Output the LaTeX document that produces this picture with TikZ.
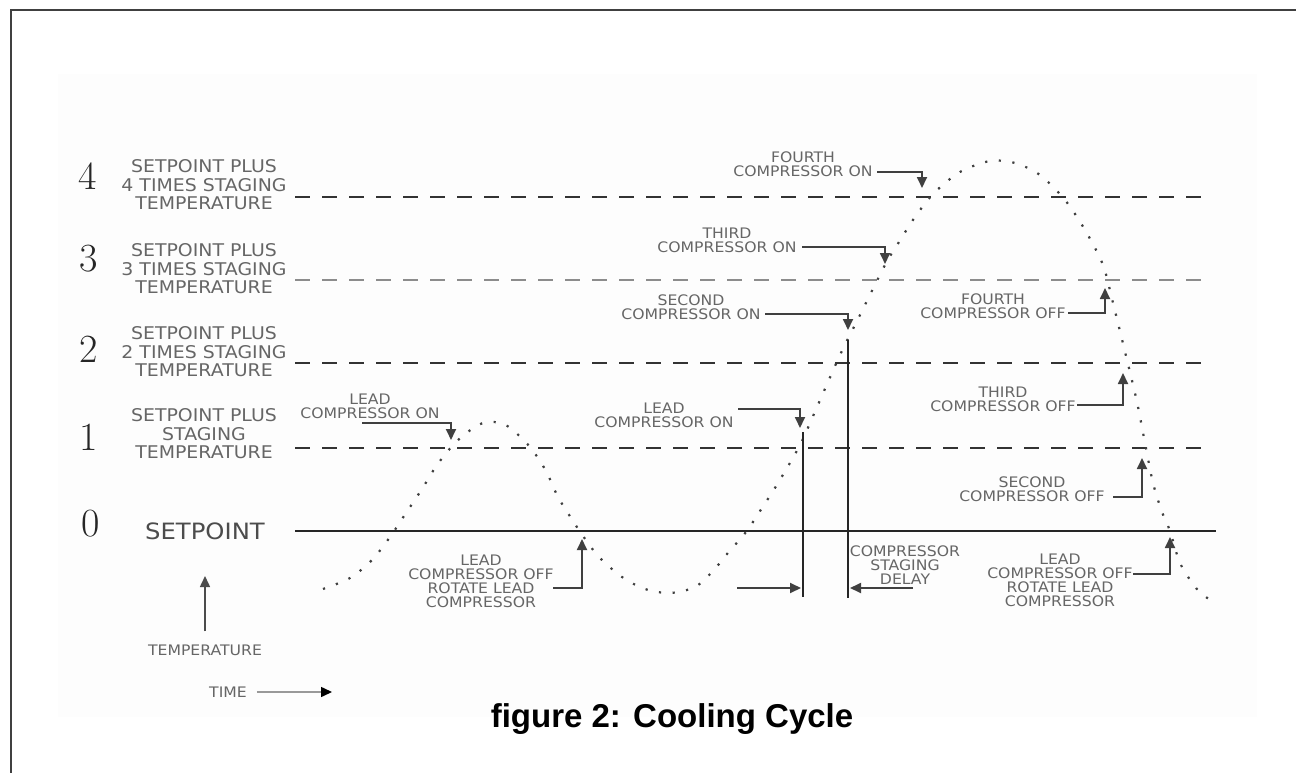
\documentclass[tikz,border=0pt]{standalone}
\usepackage{fontspec}
\usepackage{tikz}
\usetikzlibrary{arrows.meta}
\newfontfamily\labelfont[FakeStretch=1.08]{DejaVu Sans}
\newfontfamily\titlefont{Liberation Sans}

\begin{document}
\begin{tikzpicture}[x=1pt,y=-1pt,
  level/.style={line width=2.2pt,dash pattern=on 15pt off 12pt,black!80},
  callout/.style={line width=1.8pt,black!75,-{Triangle[length=11pt,width=10pt]}},
  small/.style={font=\labelfont\fontsize{14.5}{14}\selectfont,align=center,text=black!60,inner sep=0pt},
  levtext/.style={font=\labelfont\fontsize{17.5}{18.5}\selectfont,align=center,text=black!60,inner sep=0pt},
  digit/.style={font=\fontsize{40}{40}\selectfont,inner sep=0pt,text=black!85},
  wall/.style={line width=2.6pt,black!85},
  curve/.style={line width=2.2pt,dash pattern=on 2.2pt off 11.5pt,black!75}]

\useasboundingbox (0,0) rectangle (1296,773);
\fill[black!0.8] (58,74) rectangle (1257,717);

% frame
\draw[line width=2pt,black!75] (11,773) -- (11,10) -- (1296,10);

% levels
\coordinate (l4a) at (295,197);
\coordinate (l4b) at (1212,197);
\coordinate (l3a) at (295,280);
\coordinate (l3b) at (1212,280);
\coordinate (l2a) at (295,363);
\coordinate (l2b) at (1212,363);
\coordinate (l1a) at (295,448);
\coordinate (l1b) at (1212,448);
\coordinate (l0a) at (295,531);
\coordinate (l0b) at (1216,531);
\draw[level] (l4a) -- (l4b);
\draw[level,black!45] (l3a) -- (l3b);
\draw[level] (l2a) -- (l2b);
\draw[level] (l1a) -- (l1b);
\draw[line width=2.6pt,black!85] (l0a) -- (l0b);

\node[digit] (n4) at (88,176) {4};
\node[digit] (n3) at (89,259) {3};
\node[digit] (n2) at (89,349) {2};
\node[digit] (n1) at (89,437) {1};
\node[digit] (n0) at (91,524) {0};

\node[levtext] (s4) at (204,185) {SETPOINT PLUS\\4 TIMES STAGING\\TEMPERATURE};
\node[levtext] (s3) at (204,269) {SETPOINT PLUS\\3 TIMES STAGING\\TEMPERATURE};
\node[levtext] (s2) at (204,352) {SETPOINT PLUS\\2 TIMES STAGING\\TEMPERATURE};
\node[levtext] (s1) at (204,434) {SETPOINT PLUS\\STAGING\\TEMPERATURE};
\node[levtext,text=black!70,font=\labelfont\fontsize{22.5}{26}\selectfont] (s0) at (205,531) {SETPOINT};

% axes
\node[small] (temp) at (205,650) {TEMPERATURE};
\coordinate (tempup) at (205,576);
\draw[line width=1.5pt,black!70,-{Triangle[length=11pt,width=10pt]},shorten <=13pt] (temp.north) -- (tempup);
\node[small] (time) at (228,692) {TIME};
\coordinate (timeend) at (332,692);
\draw[line width=1.5pt,black!40,-{Triangle[length=11pt,width=10pt,black]},shorten <=10pt] (time.east) -- (timeend);

% temperature curve
\draw[curve] plot[smooth] coordinates {(323,589) (350,578) (372,560) (390,537)
  (406,513) (422,489) (437,465) (456,442) (478,425) (494,422) (509,427)
  (530,447) (546,471) (558,497) (573,521) (583,536) (599,557) (622,577)
  (645,589) (670,593) (695,587) (713,571) (727,554) (746,532) (762,508)
  (778,483) (800,445) (817,407) (840,355) (859,317) (885,265) (899,242)
  (915,217) (934,193) (960,172) (990,161) (1015,163) (1040,175) (1065,200)
  (1085,230) (1103,265) (1113,303) (1127,360) (1137,402) (1145,443)
  (1153,483) (1162,512) (1170,531) (1180,563) (1196,588) (1210,600)};

% staging delay
\coordinate (w1a) at (803,432);
\coordinate (w1b) at (803,597);
\coordinate (w2a) at (848,340);
\coordinate (w2b) at (848,598);
\draw[wall] (w1a) -- (w1b);
\draw[wall] (w2a) -- (w2b);
\coordinate (d1) at (737,588);
\coordinate (d1t) at (801,588);
\coordinate (d2) at (913,588);
\coordinate (d2t) at (850,588);
\draw[callout] (d1) -- (d1t);
\draw[callout] (d2) -- (d2t);
\node[small] (delay) at (905,565) {COMPRESSOR\\STAGING\\DELAY};

% compressors on
\node[small] (leadon1) at (370,406) {LEAD\\COMPRESSOR ON};
\coordinate (leadon1s) at (362,423);
\coordinate (leadon1t) at (451,440);
\draw[callout] (leadon1s) -| (leadon1t);

\node[small] (leadon2) at (664,415) {LEAD\\COMPRESSOR ON};
\coordinate (leadon2s) at (738,409);
\coordinate (leadon2t) at (800,428);
\draw[callout] (leadon2s) -| (leadon2t);

\node[small] (secon) at (691,307) {SECOND\\COMPRESSOR ON};
\coordinate (secons) at (765,314);
\coordinate (secont) at (848,330);
\draw[callout] (secons) -| (secont);

\node[small] (thion) at (727,240) {THIRD\\COMPRESSOR ON};
\coordinate (thions) at (802,247);
\coordinate (thiont) at (885,264);
\draw[callout] (thions) -| (thiont);

\node[small] (fouon) at (803,164) {FOURTH\\COMPRESSOR ON};
\coordinate (fouons) at (877,172);
\coordinate (fouont) at (922,188);
\draw[callout] (fouons) -| (fouont);

% compressors off
\node[small] (leadoff1) at (481,581) {LEAD\\COMPRESSOR OFF\\ROTATE LEAD\\COMPRESSOR};
\coordinate (leadoff1s) at (553,588);
\coordinate (leadoff1t) at (582,539);
\draw[callout] (leadoff1s) -| (leadoff1t);

\node[small] (fouoff) at (993,306) {FOURTH\\COMPRESSOR OFF};
\coordinate (fouoffs) at (1068,313);
\coordinate (fouofft) at (1105,288);
\draw[callout] (fouoffs) -| (fouofft);

\node[small] (thioff) at (1003,399) {THIRD\\COMPRESSOR OFF};
\coordinate (thioffs) at (1077,405);
\coordinate (thiofft) at (1123,373);
\draw[callout] (thioffs) -| (thiofft);

\node[small] (secoff) at (1032,489) {SECOND\\COMPRESSOR OFF};
\coordinate (secoffs) at (1113,497);
\coordinate (secofft) at (1142,458);
\draw[callout] (secoffs) -| (secofft);

\node[small] (leadoff2) at (1060,580) {LEAD\\COMPRESSOR OFF\\ROTATE LEAD\\COMPRESSOR};
\coordinate (leadoff2s) at (1133,574);
\coordinate (leadoff2t) at (1170,537);
\draw[callout] (leadoff2s) -| (leadoff2t);

\node[font=\titlefont\bfseries\fontsize{33}{36}\selectfont,anchor=base] (title) at (672,727) {figure 2: Cooling Cycle};
\end{tikzpicture}
\end{document}
